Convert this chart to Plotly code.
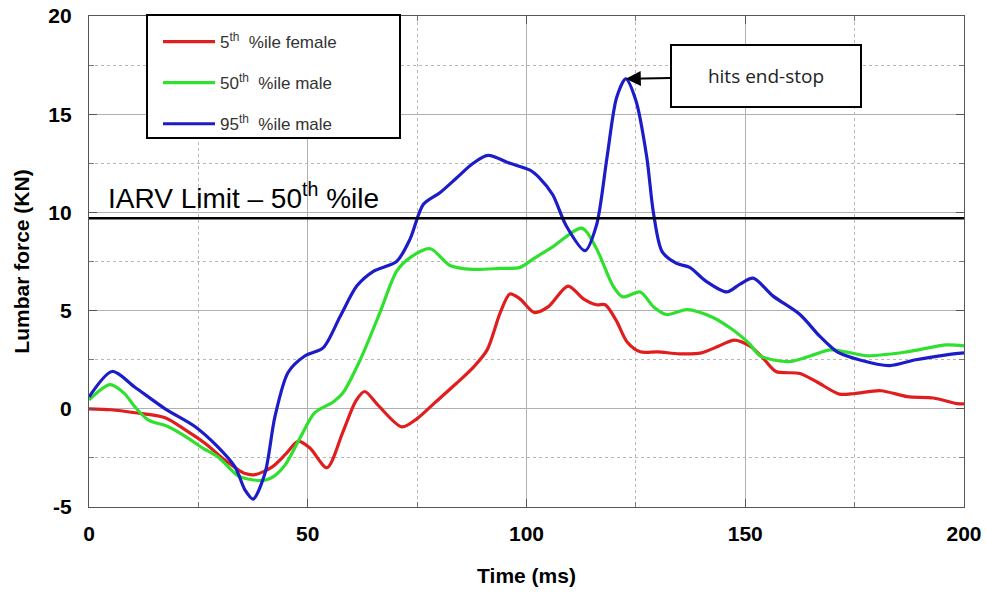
import plotly.graph_objects as go
import numpy as np

# ---- data ----
female5_t = [0, 5, 10.5, 17.4, 22, 26.5, 31, 35.7, 38, 41.8, 45, 47.8, 50.5, 54.4, 58, 61, 63, 66,
             71.5, 75, 79, 84, 88, 91, 94, 96.2, 98.5, 101.8, 105, 109.5, 113, 116, 118, 120.5, 123,
             126, 130, 135, 140, 144, 147.5, 151, 154, 157, 162.5, 166.5, 171.5, 175, 181, 187, 193,
             198.5, 200]
female5_v = [0, -0.05, -0.2, -0.45, -1.07, -1.75, -2.6, -3.3, -3.35, -2.97, -2.3, -1.65, -2.0, -3.0,
             -1.2, 0.4, 0.88, 0.2, -0.92, -0.5, 0.3, 1.3, 2.15, 3.0, 4.9, 5.85, 5.6, 4.9, 5.2, 6.25,
             5.6, 5.3, 5.3, 4.5, 3.4, 2.9, 2.9, 2.8, 2.85, 3.2, 3.5, 3.2, 2.6, 1.9, 1.8, 1.35, 0.75,
             0.78, 0.92, 0.62, 0.55, 0.26, 0.25]

male50_t = [0, 4.8, 8, 10.5, 13.5, 18, 22, 26, 29.5, 34, 37, 40.2, 42.5, 44.8, 48.2, 51.6, 55.8, 58,
            62, 66.5, 70.3, 73.4, 78, 82.5, 87.8, 94, 98.5, 102, 106, 112.7, 116, 119.8, 122, 126,
            129, 132, 136.7, 142.6, 147, 149, 151, 153.4, 160, 165, 169.4, 173, 177.8, 187, 196, 200]
male50_v = [0.45, 1.23, 0.8, 0.1, -0.56, -0.9, -1.4, -2.0, -2.45, -3.4, -3.6, -3.64, -3.4, -2.87,
            -1.5, -0.2, 0.35, 0.8, 2.5, 4.9, 7.0, 7.7, 8.15, 7.3, 7.1, 7.15, 7.2, 7.7, 8.25, 9.2,
            8.15, 6.25, 5.7, 5.95, 5.2, 4.8, 5.05, 4.65, 4.05, 3.7, 3.3, 2.7, 2.4, 2.7, 3.0, 2.9,
            2.7, 2.9, 3.25, 3.2]

male95_t = [0, 5.3, 10.5, 17.4, 24.2, 29.5, 33.4, 35.7, 37.5, 40.2, 42.5, 45.5, 49.4, 53.5, 57.4,
            61.2, 65, 70.3, 73.4, 76.4, 80.2, 84, 87.8, 91.2, 96.2, 100.8, 103, 106, 109, 113.4,
            116, 118.4, 120.6, 122.7, 125, 127.5, 129, 131, 134.3, 137.3, 141, 145.8, 148.8, 151.8,
            156.3, 162.5, 167, 171, 176, 183, 189, 196, 200]
male95_v = [0.6, 1.9, 1.1, 0, -0.9, -1.95, -2.97, -4.15, -4.6, -3.3, -0.4, 1.85, 2.7, 3.1, 4.7,
            6.25, 7.0, 7.5, 8.65, 10.4, 11.0, 11.75, 12.5, 12.9, 12.5, 12.15, 11.75, 10.9, 9.35,
            8.05, 9.35, 12.8, 15.85, 16.8, 15.7, 12.8, 10.0, 8.0, 7.4, 7.2, 6.5, 5.95, 6.35, 6.65,
            5.75, 4.8, 3.7, 2.9, 2.5, 2.2, 2.5, 2.75, 2.85]

IARV_LIMIT = 9.7
x_ticks = [0, 50, 100, 150, 200]
y_ticks = [-5, 0, 5, 10, 15, 20]

series = [
    ("5<sup>th</sup>  %ile female", female5_t, female5_v, "#e01e1e"),
    ("50<sup>th</sup>  %ile male", male50_t, male50_v, "#2fe02f"),
    ("95<sup>th</sup>  %ile male", male95_t, male95_v, "#1c1cc8"),
]

fig = go.Figure()
for i, (name, t, v, c) in enumerate(series):
    fig.add_trace(go.Scatter(
        x=t, y=v, mode="lines", name=name, legendgroup=f"g{i}",
        line=dict(color=c, width=3.2, shape="spline", smoothing=0.8),
    ))

fig.add_trace(go.Scatter(
    x=[x_ticks[0], x_ticks[-1]], y=[IARV_LIMIT, IARV_LIMIT], mode="lines",
    line=dict(color="black", width=2.5), showlegend=False, hoverinfo="skip",
))

fig.add_annotation(
    x=3.8, y=IARV_LIMIT, xref="x", yref="y", xanchor="left", yanchor="bottom", yshift=2,
    text="IARV Limit \u2013 50<sup>th</sup> %ile", showarrow=False,
    font=dict(family="Liberation Sans, Arial", size=28, color="black"),
)

pk = int(np.argmax(male95_v))
fig.add_annotation(
    x=male95_t[pk], y=male95_v[pk], xref="x", yref="y",
    ax=140, ay=-3, axref="pixel", ayref="pixel",
    text="hits end-stop", showarrow=True, arrowhead=2, arrowsize=1.5, arrowwidth=2,
    arrowcolor="black", standoff=0,
    font=dict(family="Open Sans, Liberation Sans", size=19, color="#222"),
    bordercolor="black", borderwidth=2, bgcolor="white", width=178, height=50, borderpad=5,
    align="center",
)

# legend box
fig.add_shape(type="rect", xref="paper", yref="paper",
              x0=(147 - 89) / 875, x1=(400 - 89) / 875,
              y0=(507 - 138) / 491, y1=(507 - 15) / 491,
              line=dict(color="black", width=2), fillcolor="white", layer="above")

tickfont = dict(family="Liberation Sans, Arial", size=21, color="black", weight=700)
axcommon = dict(showline=True, linecolor="#555", linewidth=1.2, mirror="ticks",
                ticks="inside", ticklen=8, tickcolor="#555",
                showgrid=True, gridcolor="#b0b0b0", gridwidth=1.2, zeroline=False,
                tickfont=tickfont, automargin=False)

fig.update_xaxes(range=[0, 200], tickvals=x_ticks, ticktext=[str(v) for v in x_ticks], **axcommon,
                 ticklabelstandoff=8,
                 minor=dict(dtick=25, showgrid=True, griddash="dot", gridcolor="#b8b8b8",
                            ticks="inside", ticklen=5, tickcolor="#777"),
                 title=dict(text="Time (ms)", standoff=24,
                            font=dict(family="Liberation Sans, Arial", size=21, color="black", weight=700)))
fig.update_yaxes(range=[-5, 20], tickvals=y_ticks, ticktext=[str(v) for v in y_ticks], **axcommon,
                 ticklabelstandoff=12,
                 minor=dict(dtick=2.5, showgrid=True, griddash="dot", gridcolor="#b8b8b8",
                            ticks="inside", ticklen=5, tickcolor="#777"),
                 title=dict(text="Lumbar force (KN)", standoff=12,
                            font=dict(family="Liberation Sans, Arial", size=21, color="black", weight=700)))

fig.update_layout(
    width=986, height=593,
    margin=dict(l=89, r=22, t=16, b=86),
    plot_bgcolor="white", paper_bgcolor="white",
    showlegend=True,
    legend=dict(x=(158 - 89) / 875, y=(507 - 24) / 491, xanchor="left", yanchor="top",
                bgcolor="rgba(0,0,0,0)", borderwidth=0, tracegroupgap=16,
                font=dict(family="Liberation Sans, Arial", size=17, color="#333"),
                itemwidth=52),
)

fig.write_html("out.html")
